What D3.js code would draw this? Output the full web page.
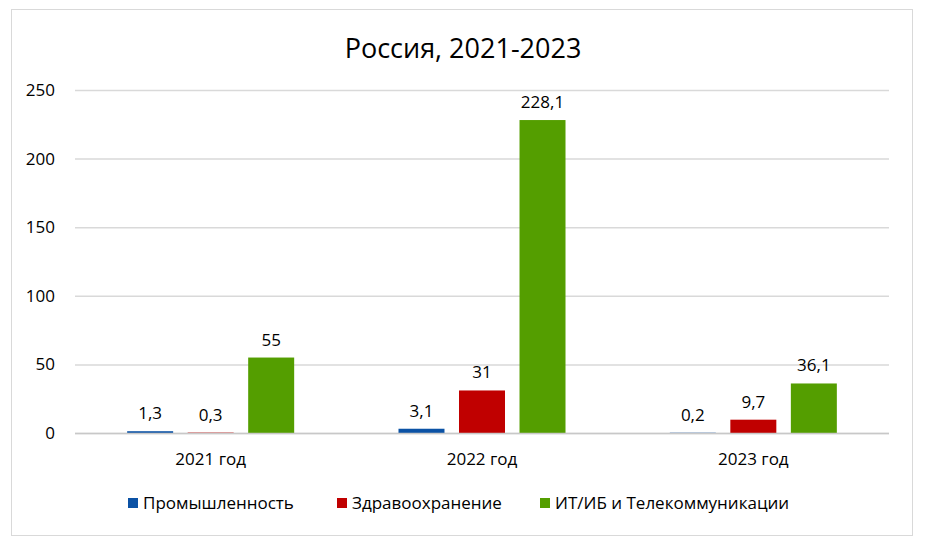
<!DOCTYPE html>
<html><head><meta charset="utf-8">
<script src="https://cdn.jsdelivr.net/npm/d3@7"></script>
<style>body{margin:0;background:#fff}svg{display:block;font-family:"Open Sans","Noto Sans",sans-serif}</style>
</head><body><svg id="c" width="927" height="546"></svg>
<script>
const categories = ["2021 год", "2022 год", "2023 год"];
const seriesNames = ["Промышленность", "Здравоохранение", "ИТ/ИБ и Телекоммуникации"];
const industry = [1.3, 3.1, 0.2];
const health = [0.3, 31, 9.7];
const itTelecom = [55, 228.1, 36.1];
const yTicks = [0, 50, 100, 150, 200, 250];
const colors = ["#0B52A5", "#C00000", "#549E00"];
const title = "Россия, 2021-2023";

const series = [industry, health, itTelecom];
const svg = d3.select("#c");
svg.append("rect").attr("x", 11.5).attr("y", 9.5).attr("width", 901).attr("height", 526)
  .attr("fill", "#fff").attr("stroke", "#d9d9d9");

const L = 75, R = 889, T = 90, B = 433;
const x0 = d3.scaleBand().domain(categories).range([L, R]).paddingInner(0).paddingOuter(0);
const x1 = d3.scaleBand().domain(d3.range(3)).range([0, x0.bandwidth()]).paddingInner(0.24).paddingOuter(0.862);
const y = d3.scaleLinear().domain([0, 250]).range([B, T]);

svg.append("text").attr("x", 463).attr("y", 58).attr("text-anchor", "middle")
  .attr("font-size", 27).attr("fill", "#000").text(title);

const yAxis = svg.append("g").attr("transform", `translate(${L},0)`)
  .call(d3.axisLeft(y).tickValues(yTicks).tickSize(-(R - L)).tickPadding(20).tickFormat(d3.format("d")));
yAxis.select(".domain").remove();
yAxis.selectAll(".tick line").attr("stroke", "#d9d9d9").attr("stroke-width", 1.5);
yAxis.selectAll(".tick text").attr("font-size", 17).attr("fill", "#000").attr("font-family", "Open Sans");

const g = svg.append("g");
series.forEach((vals, si) => {
  g.selectAll(null).data(vals).join("rect")
    .attr("x", (d, i) => x0(categories[i]) + x1(si))
    .attr("width", x1.bandwidth())
    .attr("y", d => y(d))
    .attr("height", d => y(0) - y(d))
    .attr("fill", colors[si]);
  g.selectAll(null).data(vals).join("text")
    .attr("x", (d, i) => x0(categories[i]) + x1(si) + x1.bandwidth() / 2)
    .attr("y", d => y(d) - 12)
    .attr("text-anchor", "middle").attr("font-size", 17).attr("fill", "#000")
    .text(d => String(d).replace(".", ","));
});

svg.append("line").attr("x1", L).attr("x2", R).attr("y1", B + 0.5).attr("y2", B + 0.5)
  .attr("stroke", "#c8c8c8").attr("stroke-width", 1.5);

const xAxis = svg.append("g").attr("transform", `translate(0,${B})`)
  .call(d3.axisBottom(x0).tickSize(0).tickPadding(20));
xAxis.select(".domain").remove();
xAxis.selectAll(".tick text").attr("font-size", 17).attr("fill", "#000").attr("font-family", "Open Sans");

const legX = [128, 337, 540];
const leg = svg.append("g");
seriesNames.forEach((n, i) => {
  leg.append("rect").attr("x", legX[i]).attr("y", 498).attr("width", 10).attr("height", 10).attr("fill", colors[i]);
  leg.append("text").attr("x", legX[i] + 15).attr("y", 509).attr("font-size", 17).attr("fill", "#000").text(n);
});
</script></body></html>
